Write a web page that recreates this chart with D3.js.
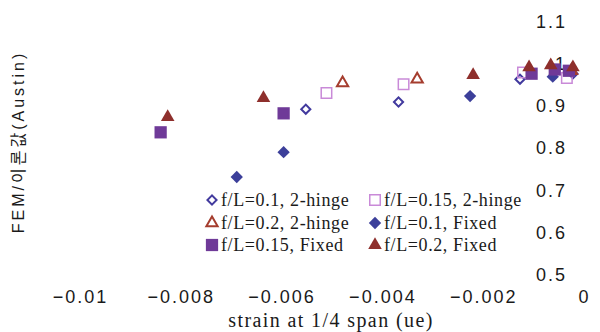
<!DOCTYPE html>
<html>
<head>
<meta charset="utf-8">
<script src="https://cdn.jsdelivr.net/npm/d3@7"></script>
<style>
  body { margin: 0; background: #fff; }
  svg { display: block; }
  .tick text { font-family: "Liberation Sans", Arial, sans-serif; font-size: 18px; fill: #1a1a1a; letter-spacing: 2px; }
  .legend text { font-family: "Liberation Serif", "Times New Roman", serif; font-size: 18px; fill: #1a1a1a; letter-spacing: 0.6px; }
</style>
</head>
<body>
<div id="chart"></div>
<script>
// FEM / theory ratio vs strain at 1/4 span

var xTicks = [-0.01, -0.008, -0.006, -0.004, -0.002, 0];
var yTicks = [0.5, 0.6, 0.7, 0.8, 0.9, 1, 1.1];

// [strain, ratio] for each series
var hinge01 = [[-0.00552, 0.891], [-0.00368, 0.908], [-0.00127, 0.962], [-0.00022, 0.975]];
var hinge015 = [[-0.00511, 0.929], [-0.00358, 0.950], [-0.00121, 0.978], [-0.00034, 0.965]];
var hinge02 = [[-0.00479, 0.953], [-0.00331, 0.962], [-0.00025, 0.982]];
var fixed01 = [[-0.00689, 0.730], [-0.00596, 0.789], [-0.00226, 0.922], [-0.00062, 0.968]];
var fixed015 = [[-0.0084, 0.836], [-0.00596, 0.881], [-0.00104, 0.975], [-0.00058, 0.985], [-0.00030, 0.982]];
var fixed02 = [[-0.00826, 0.872], [-0.00636, 0.917], [-0.0022, 0.972], [-0.00109, 0.990], [-0.00066, 0.995], [-0.00022, 0.990]];

var seriesNames = ["f/L=0.1, 2-hinge", "f/L=0.15, 2-hinge", "f/L=0.2, 2-hinge",
                   "f/L=0.1, Fixed", "f/L=0.15, Fixed", "f/L=0.2, Fixed"];

var width = 600, height = 332;

var svg = d3.select("#chart")
    .append("svg")
    .attr("width", width)
    .attr("height", height);

var xScale = d3.scaleLinear().domain([-0.01, 0]).range([80, 584]);
var yScale = d3.scaleLinear().domain([0.5, 1.1]).range([274, 21]);

// marker styles per series
var styles = [
    { data: hinge01, type: d3.symbolSquare, rot: 45, size: 42, fill: "none", stroke: "#423a9e", sw: 2 },
    { data: hinge015, type: d3.symbolSquare, rot: 0, size: 110, fill: "none", stroke: "#c98ad8", sw: 1.5 },
    { data: hinge02, type: d3.symbolTriangle, rot: 0, size: 55, fill: "none", stroke: "#a53d2e", sw: 2 },
    { data: fixed01, type: d3.symbolSquare, rot: 45, size: 76, fill: "#3c3f9a", stroke: "none", sw: 0 },
    { data: fixed015, type: d3.symbolSquare, rot: 0, size: 150, fill: "#6f3a98", stroke: "none", sw: 0 },
    { data: fixed02, type: d3.symbolTriangle, rot: 0, size: 80, fill: "#8e2f2c", stroke: "none", sw: 0 }
];

// axes (labels only)
var xAxis = d3.axisBottom(xScale)
    .tickValues(xTicks)
    .tickSize(0)
    .tickPadding(0)
    .tickFormat(d3.format(""));

var yAxis = d3.axisLeft(yScale)
    .tickValues(yTicks)
    .tickSize(0)
    .tickPadding(0)
    .tickFormat(d3.format(""));

var gx = svg.append("g")
    .attr("class", "axis x")
    .attr("transform", "translate(0,290)")
    .call(xAxis);
gx.select(".domain").remove();

var gy = svg.append("g")
    .attr("class", "axis y")
    .attr("transform", "translate(567,0)")
    .call(yAxis);
gy.select(".domain").remove();
gy.selectAll("text").attr("dy", "0.36em");

// points
styles.forEach(function (s) {
    svg.append("g")
        .selectAll("path")
        .data(s.data)
        .enter()
        .append("path")
        .attr("d", d3.symbol().type(s.type).size(s.size))
        .attr("transform", function (d) {
            return "translate(" + xScale(d[0]) + "," + yScale(d[1]) + ") rotate(" + s.rot + ")";
        })
        .attr("fill", s.fill)
        .attr("stroke", s.stroke)
        .attr("stroke-width", s.sw);
});

// legend
var legendPos = [[212, 200], [375, 200], [212, 223], [375, 223], [212, 245], [375, 245]];
var legend = svg.append("g").attr("class", "legend");

styles.forEach(function (s, i) {
    var p = legendPos[i];
    legend.append("path")
        .attr("d", d3.symbol().type(s.type).size(s.size))
        .attr("transform", "translate(" + p[0] + "," + p[1] + ") rotate(" + s.rot + ")")
        .attr("fill", s.fill)
        .attr("stroke", s.stroke)
        .attr("stroke-width", s.sw);
    legend.append("text")
        .attr("x", p[0] + 9)
        .attr("y", p[1] + 6)
        .text(seriesNames[i]);
});

// axis titles
svg.append("text")
    .attr("x", 331)
    .attr("y", 327)
    .attr("text-anchor", "middle")
    .style("font-family", "'Liberation Serif', 'Times New Roman', serif")
    .style("font-size", "20px")
    .style("letter-spacing", "1.4px")
    .style("fill", "#1a1a1a")
    .text("strain at 1/4 span (ue)");

svg.append("text")
    .attr("transform", "translate(24,142) rotate(-90)")
    .attr("text-anchor", "middle")
    .style("font-family", "'Liberation Sans', 'Noto Sans CJK KR', sans-serif")
    .style("font-size", "16px")
    .style("letter-spacing", "3px")
    .style("fill", "#1a1a1a")
    .text("FEM/이론값(Austin)");
</script>
</body>
</html>
